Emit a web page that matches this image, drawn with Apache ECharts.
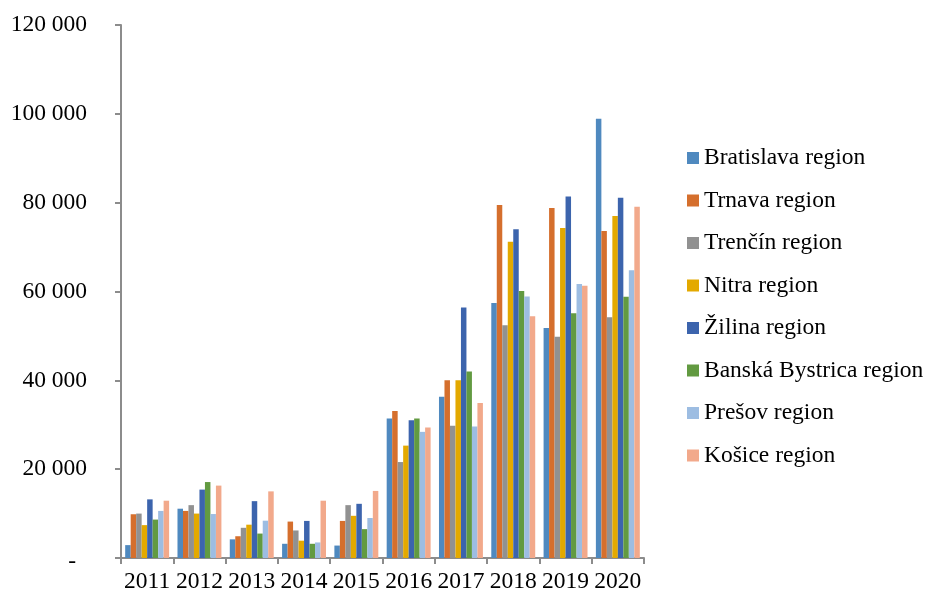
<!DOCTYPE html>
<html>
<head>
<meta charset="utf-8">
<script src="https://cdn.jsdelivr.net/npm/echarts@6/dist/echarts.min.js"></script>
<style>
  html, body { margin: 0; padding: 0; background: #ffffff; }
  #chart { width: 930px; height: 594px; }
</style>
</head>
<body>
<div id="chart"></div>
<script>
// Years on the category axis
const years = ['2011', '2012', '2013', '2014', '2015', '2016', '2017', '2018', '2019', '2020'];

// Regions, in legend order
const regions = ['Bratislava region', 'Trnava region', 'Trenčín region', 'Nitra region',
  'Žilina region', 'Banská Bystrica region', 'Prešov region', 'Košice region'];

// Values per region, one per year
const bratislava     = [2900, 11100, 4200, 3200, 2800, 31400, 36300, 57400, 51800, 98900];
const trnava         = [9850, 10600, 4900, 8200, 8350, 33100, 40000, 79500, 78800, 73600];
const trencin        = [10000, 11900, 6800, 6200, 11900, 21600, 29800, 52400, 49800, 54200];
const nitra          = [7400, 10000, 7500, 3900, 9500, 25300, 40000, 71200, 74300, 77000];
const zilina         = [13200, 15400, 12800, 8350, 12200, 31000, 56400, 74000, 81400, 81100];
const banskaBystrica = [8650, 17100, 5500, 3200, 6500, 31400, 42000, 60100, 55100, 58800];
const presov         = [10600, 9900, 8400, 3500, 9000, 28400, 29600, 58900, 61700, 64800];
const kosice         = [12900, 16300, 15000, 12900, 15100, 29400, 34900, 54400, 61300, 79100];

// Value axis ticks
const yMin = 0;
const yMax = 120000;
const yStep = 20000;

const seriesValues = [bratislava, trnava, trencin, nitra, zilina, banskaBystrica, presov, kosice];
const colors = ['#4f89bf', '#d56f2d', '#919191', '#e3a900', '#3c64ad', '#629a41', '#9dbde2', '#f2a98b'];

const serif = '"Liberation Serif", "Times New Roman", serif';
const fontSize = 23.5;

function formatThousands(v) {
  if (v === 0) return '{dash|-}';
  return String(v).replace(/\B(?=(\d{3})+(?!\d))/g, ' ');
}

const chart = echarts.init(document.getElementById('chart'), null, { renderer: 'canvas' });

chart.setOption({
  backgroundColor: '#ffffff',
  animation: false,
  color: colors,
  grid: { left: 121, right: 286, top: 25, bottom: 36 },
  legend: {
    orient: 'vertical',
    left: 682,
    top: 141,
    itemWidth: 12,
    itemHeight: 12,
    itemGap: 18.5,
    icon: 'rect',
    textStyle: { fontFamily: serif, fontSize: fontSize, color: '#000000', lineHeight: 23 },
    data: regions
  },
  xAxis: {
    type: 'category',
    data: years,
    boundaryGap: true,
    axisLine: { lineStyle: { color: '#8c8c8c', width: 2 } },
    axisTick: { show: true, alignWithLabel: false, interval: 0, length: 6, lineStyle: { color: '#8c8c8c', width: 2 } },
    axisLabel: { fontFamily: serif, fontSize: fontSize, color: '#000000', margin: 12, interval: 0 },
    splitLine: { show: false }
  },
  yAxis: {
    type: 'value',
    min: yMin,
    max: yMax,
    interval: yStep,
    axisLine: { show: true, lineStyle: { color: '#8c8c8c', width: 2 } },
    axisTick: { show: true, inside: false, length: 6, lineStyle: { color: '#8c8c8c', width: 2 } },
    splitLine: { show: false },
    axisLabel: {
      fontFamily: serif,
      fontSize: fontSize,
      color: '#000000',
      margin: 34,
      formatter: formatThousands,
      rich: {
        dash: { fontFamily: serif, fontSize: fontSize, color: '#000000', padding: [8, 11, 0, 0] }
      }
    }
  },
  series: regions.map((name, i) => ({
    name: name,
    type: 'bar',
    data: seriesValues[i],
    barGap: '0%',
    barCategoryGap: '16%',
    itemStyle: { color: colors[i] }
  }))
});
</script>
</body>
</html>
